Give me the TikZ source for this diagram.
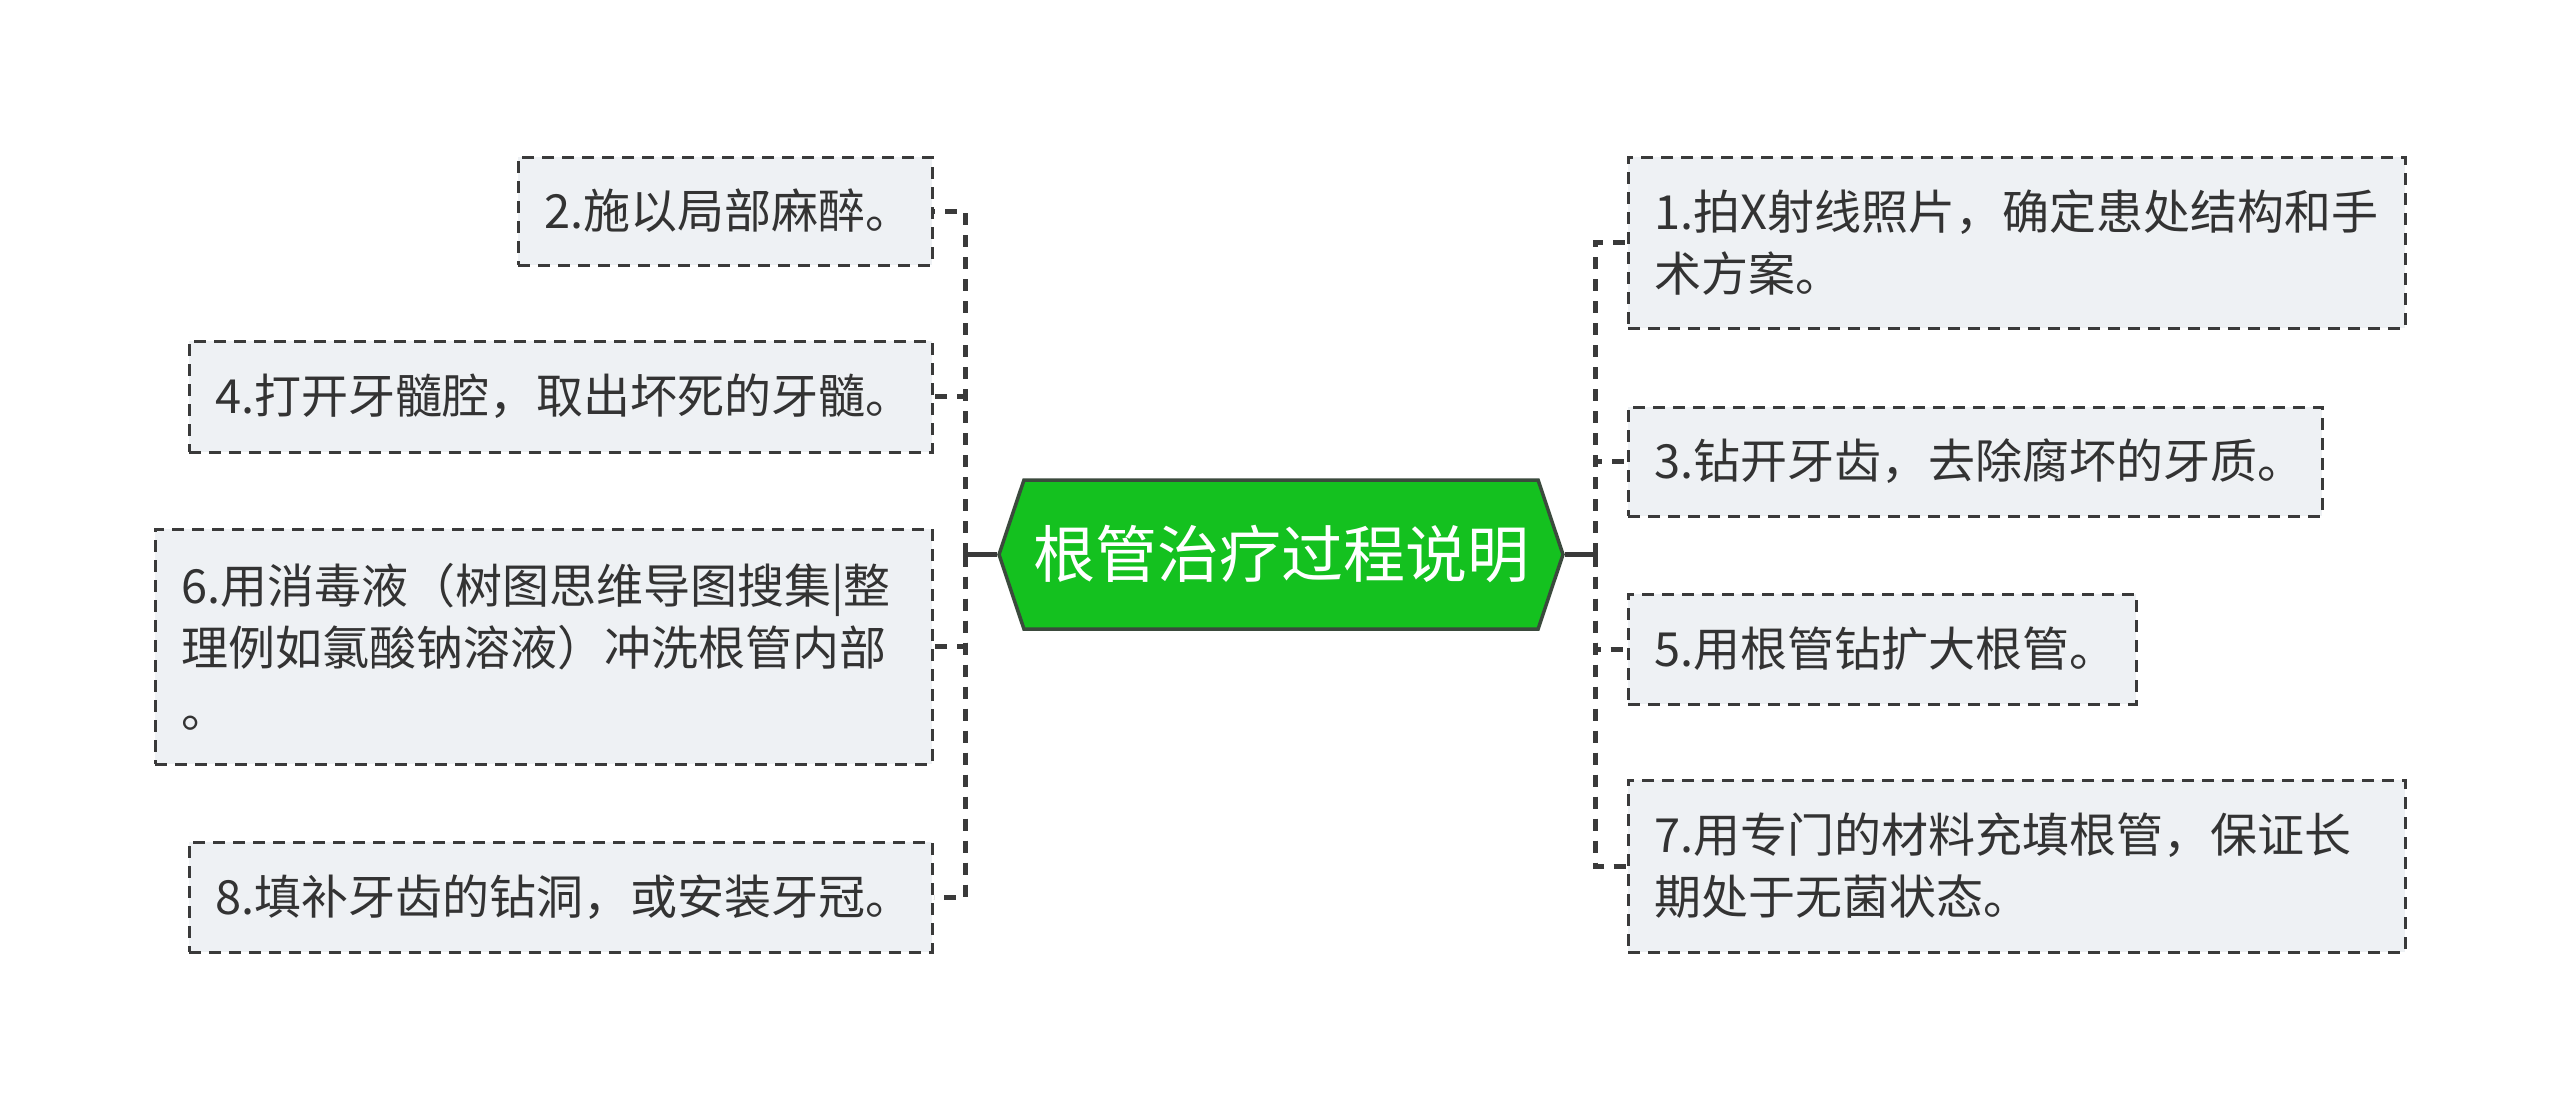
\documentclass[tikz,border=0pt]{standalone}
\usepackage{fontspec}
\newfontfamily\cjk{Noto Sans CJK SC}
\usetikzlibrary{shapes.symbols}
\definecolor{hexfill}{HTML}{14C11F}
\definecolor{hexdraw}{HTML}{3B4A3D}
\definecolor{boxfill}{HTML}{EEF1F4}
\definecolor{linec}{HTML}{3A3A3A}
\definecolor{txt}{HTML}{333333}
\tikzset{
  topic/.style={draw=linec, line width=1.5pt, dash pattern=on 6pt off 4pt,
    fill=boxfill, inner xsep=13pt, inner ysep=0pt, align=left,
    font=\cjk\fontsize{23.5}{31}\selectfont, text=txt},
  central/.style={shape=signal, signal to=west and east, signal pointer angle=143,
    draw=hexdraw, line width=1.75pt, fill=hexfill, text=white,
    font=\cjk\fontsize{31}{36}\selectfont, minimum width=282pt, minimum height=74.5pt, inner sep=0pt},
  conn/.style={draw=linec, line width=2.5pt, dash pattern=on 6pt off 5pt},
  trunk/.style={draw=linec, line width=2.5pt}
}
\begin{document}
\begin{tikzpicture}[x=0.5pt,y=-0.5pt]
\useasboundingbox (0,0) rectangle (2560,1108);
\node[central] (hex) at (1281,554.5) {根管治疗过程说明};
% left topics
\node[topic, minimum width=207pt, minimum height=54pt, text width=181pt] (b2) at (725,211) {2.施以局部麻醉。};
\node[topic, minimum width=371.5pt, minimum height=55.5pt, text width=345.5pt] (b4) at (560.5,396.5) {4.打开牙髓腔，取出坏死的牙髓。};
\node[topic, minimum width=388.5pt, minimum height=117.5pt, text width=362.5pt] (b6) at (543.5,646.5) {6.用消毒液（树图思维导图搜集|整\\理例如氯酸钠溶液）冲洗根管内部\\。};
\node[topic, minimum width=371.5pt, minimum height=55pt, text width=345.5pt] (b8) at (560.5,897) {8.填补牙齿的钻洞，或安装牙冠。};
% right topics
\node[topic, minimum width=388.5pt, minimum height=85.5pt, text width=362.5pt] (b1) at (2016.5,242.5) {1.拍X射线照片，确定患处结构和手\\术方案。};
\node[topic, minimum width=347pt, minimum height=54.5pt, text width=321pt] (b3) at (1975,461.5) {3.钻开牙齿，去除腐坏的牙质。};
\node[topic, minimum width=254pt, minimum height=55pt, text width=228pt] (b5) at (1882,649) {5.用根管钻扩大根管。};
\node[topic, minimum width=388.5pt, minimum height=86pt, text width=362.5pt] (b7) at (2016.5,866) {7.用专门的材料充填根管，保证长\\期处于无菌状态。};
% connectors
\coordinate (jl) at (965,554.5);
\coordinate (jr) at (1595,554.5);
\draw[trunk] (hex.west) -- (jl);
\draw[trunk] (hex.east) -- (jr);
\draw[conn] (jl) |- (b2.east);
\draw[conn] (jl) |- (b4.east);
\draw[conn] (jl) |- (b6.east);
\draw[conn] (jl) |- (b8.east);
\draw[conn] (jr) |- (b1.west);
\draw[conn] (jr) |- (b3.west);
\draw[conn] (jr) |- (b5.west);
\draw[conn] (jr) |- (b7.west);
\end{tikzpicture}
\end{document}
